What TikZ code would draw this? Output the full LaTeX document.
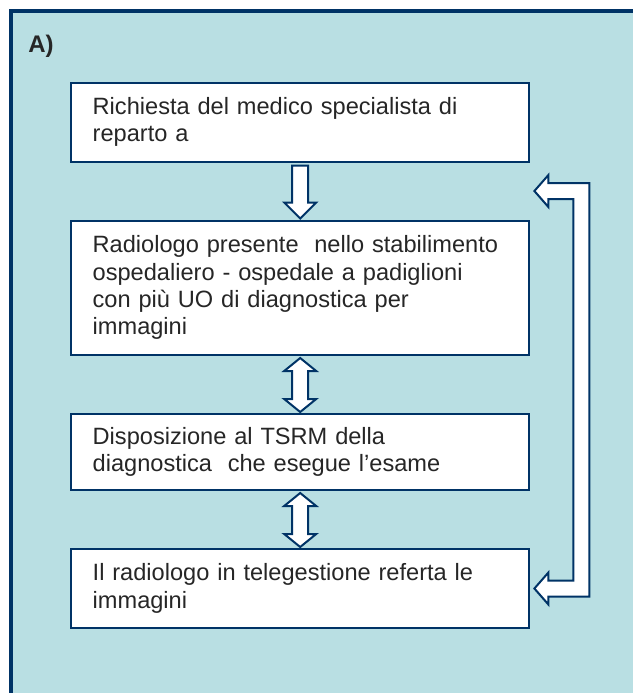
\documentclass[tikz,border=0pt]{standalone}
\usepackage{fontspec}
\setmainfont{Liberation Sans}
\usetikzlibrary{calc,positioning}
\definecolor{framenavy}{RGB}{0,51,102}
\definecolor{panelaqua}{RGB}{185,223,227}
\definecolor{textgray}{RGB}{38,38,38}
\tikzset{
  % riquadro di un passo
  stepbox/.style={
    draw=framenavy,
    line width=1pt,
    fill=white,
    anchor=north west,
    text width=207.5pt,
    inner xsep=10.85pt,
    inner ysep=0pt,
    align=left,
    font=\fontsize{11.8}{13.65}\selectfont,
    text=textgray
  },
  % freccia a blocco
  blockarrow/.style={draw=framenavy, line width=1pt, fill=white, line join=miter},
}

\begin{document}
\begin{tikzpicture}[x=0.5pt, y=-0.5pt]
  \path[use as bounding box] (0,0) rectangle (633,693);
  \clip (0,0) rectangle (633,693);

  % pannello di sfondo
  \draw[draw=framenavy, line width=2pt, fill=panelaqua] (11,11) rectangle (660,720);
  \node[font=\fontsize{12}{14}\selectfont\bfseries, text=textgray, anchor=base west, inner sep=0pt] (lab) at (28,52) {A)};

  % passi
  \node[stepbox, minimum height=39.5pt] (req) at (70,81.5) {Richiesta del medico specialista di\\reparto a};
  \node[stepbox, minimum height=67.25pt] (rad) at (70,219.5) {Radiologo presente\ \ nello stabilimento\\ospedaliero - ospedale a padiglioni\\con più UO di diagnostica per\\immagini};
  \node[stepbox, minimum height=38pt] (tsrm) at (70,413) {Disposizione al TSRM della\\diagnostica\ \ che esegue l’esame};
  \node[stepbox, minimum height=39.5pt] (tele) at (70,548) {Il radiologo in telegestione referta le\\immagini};

  % frecce verticali
  \draw[blockarrow] ($(req.south)+(-8,3)$) -- ($(req.south)+(8,3)$) -- ($(rad.north)+(8,-17)$) -- ++(8,0)
    -- ($(rad.north)+(0,-1)$) -- ++(-16,-16) -- ++(8,0) -- cycle;
  \draw[blockarrow] ($(rad.south)+(0,2)$) -- ++(16,13) -- ++(-8,0) -- ($(tsrm.north)+(8,-14)$) -- ++(8,0)
    -- ($(tsrm.north)+(0,-1)$) -- ++(-16,-13) -- ++(8,0) -- ($(rad.south)+(-8,15)$) -- ++(-8,0) -- cycle;
  \draw[blockarrow] ($(tsrm.south)+(0,2)$) -- ++(16,13) -- ++(-8,0) -- ($(tele.north)+(8,-14)$) -- ++(8,0)
    -- ($(tele.north)+(0,-1)$) -- ++(-16,-13) -- ++(8,0) -- ($(tsrm.south)+(-8,15)$) -- ++(-8,0) -- cycle;

  % freccia di ritorno
  \coordinate (gap) at ($(req.south east)!0.5!(rad.north east)$);
  \coordinate (fbtop) at ($(gap)+(4,0)$);
  \coordinate (fbbot) at ($(tele.east)+(4,0)$);
  \draw[blockarrow] (fbtop) -- ++(14,-16) -- ++(0,8) -- ($(fbtop)+(55,-8)$) -- ($(fbbot)+(55,8)$)
    -- ($(fbbot)+(14,8)$) -- ++(0,8) -- (fbbot) -- ++(14,-16) -- ++(0,8) -- ($(fbbot)+(39,-8)$)
    -- ($(fbtop)+(39,8)$) -- ($(fbtop)+(14,8)$) -- ++(0,8) -- cycle;
\end{tikzpicture}
\end{document}
